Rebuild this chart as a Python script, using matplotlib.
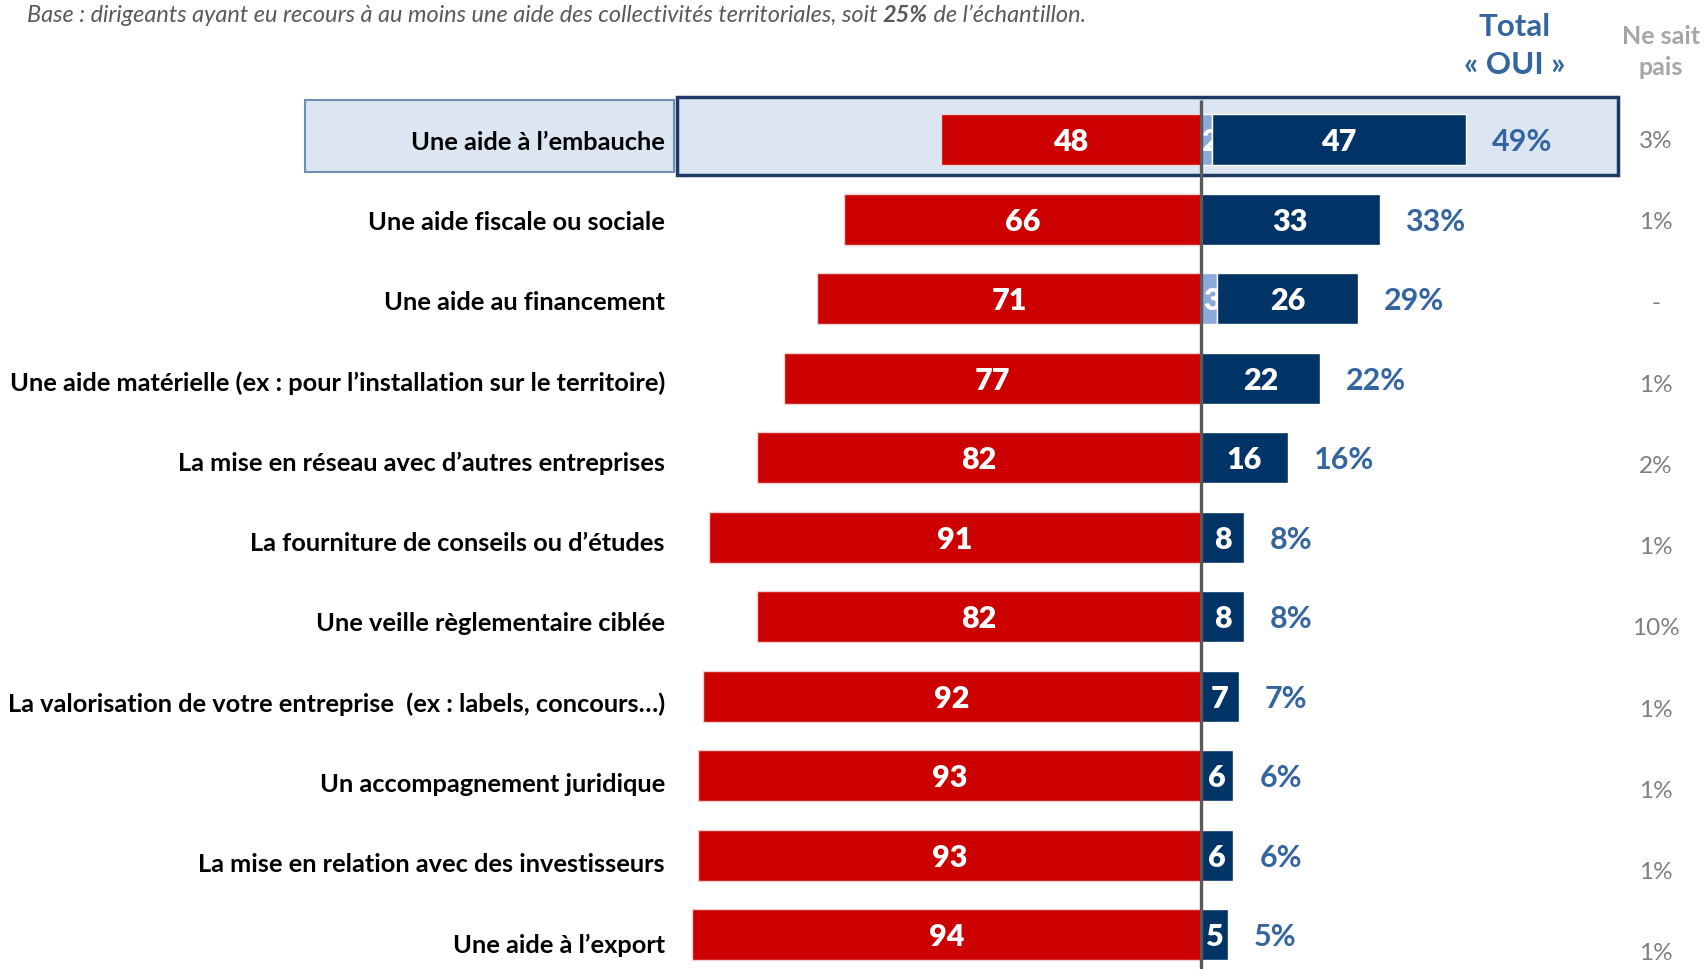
import matplotlib
matplotlib.use("Agg")
import matplotlib.pyplot as plt
from matplotlib.patches import Rectangle

# ---------------- data ----------------
categories = [
    "Une aide à l\u2019embauche",
    "Une aide fiscale ou sociale",
    "Une aide au financement",
    "Une aide matérielle (ex : pour l\u2019installation sur le territoire)",
    "La mise en réseau avec d\u2019autres entreprises",
    "La fourniture de conseils ou d\u2019études",
    "Une veille règlementaire ciblée",
    "La valorisation de votre entreprise  (ex : labels, concours\u2026)",
    "Un accompagnement juridique",
    "La mise en relation avec des investisseurs",
    "Une aide à l\u2019export",
]
non_vals = [48, 66, 71, 77, 82, 91, 82, 92, 93, 93, 94]
oui_light = [2, 0, 3, 0, 0, 0, 0, 0, 0, 0, 0]
oui_vals = [47, 33, 26, 22, 16, 8, 8, 7, 6, 6, 5]
total_oui = [49, 33, 29, 22, 16, 8, 8, 7, 6, 6, 5]
ne_sait_pas = ["3%", "1%", "-", "1%", "2%", "1%", "10%", "1%", "1%", "1%", "1%"]

base_text_1 = "Base : dirigeants ayant eu recours à au moins une aide des collectivités territoriales, soit "
base_text_bold = "25%"
base_text_2 = " de l\u2019échantillon."
header_total = "Total\n\u00ab OUI \u00bb"
header_nsp = "Ne sait\npais"

# ---------------- style ----------------
plt.rcParams['font.family'] = ['Lato', 'DejaVu Sans']
RED = "#CC0000"
NAVY = "#003366"
LIGHT = "#8EA9DB"
STEEL = "#3465A0"
GRAY = "#7F7F7F"
HEADGRAY = "#A6A6A6"

W, H = 1706, 969
fig = plt.figure(figsize=(W / 100, H / 100), dpi=100)
ax = fig.add_axes([0, 0, 1, 1])
ax.set_axis_off()

px_per_unit = 5.41
center_px = 1201
row0_px = 139.8
row_px = 79.5
ax.set_xlim(-center_px / px_per_unit, (W - center_px) / px_per_unit)
ax.set_ylim((H - row0_px) / row_px, -row0_px / row_px)

def dx(px):
    return (px - center_px) / px_per_unit

def dy(px):
    return (px - row0_px) / row_px

n = len(categories)
ys = list(range(n))
bh = 0.645

# highlight box for the first row
ax.add_patch(Rectangle((dx(305), dy(100)), dx(674) - dx(305), dy(172) - dy(100),
                       facecolor="#DCE6F2", edgecolor="#6F8FB5", lw=1.5, zorder=1))
ax.add_patch(Rectangle((dx(677), dy(97)), dx(1618) - dx(677), dy(175) - dy(97),
                       facecolor="#DCE6F2", edgecolor="#1F3864", lw=2.5, zorder=1))

# bars
ax.barh(ys, [-v for v in non_vals], height=bh, left=0, color=RED,
        edgecolor="#F2D0D0", lw=1, zorder=3)
ax.barh(ys, oui_light, height=bh, left=0, color=LIGHT, edgecolor="white", lw=1, zorder=3)
ax.barh(ys, oui_vals, height=bh, left=oui_light, color=NAVY, edgecolor="white", lw=1, zorder=4)

for i in range(n):
    y = ys[i]
    # red value
    ax.text(-non_vals[i] / 2, y + 0.03, str(non_vals[i]), ha="center", va="center",
            color="white", fontsize=22, fontweight="heavy", zorder=5)
    if oui_light[i]:
        ax.text(oui_light[i] / 2 + 0.6, y + 0.03, str(oui_light[i]), ha="center", va="center",
                color="white", fontsize=22, fontweight="heavy", zorder=3.5)
    ax.text(oui_light[i] + oui_vals[i] / 2, y + 0.03, str(oui_vals[i]), ha="center", va="center",
            color="white", fontsize=22, fontweight="heavy", zorder=5)
    # total oui
    ax.text(oui_light[i] + oui_vals[i] + 4.8, y + 0.03, f"{total_oui[i]}%", ha="left", va="center",
            color=STEEL, fontsize=22, fontweight="bold", zorder=5)
    # ne sait pas
    ax.text(dx(1656), y * 1.022 + 0.02, ne_sait_pas[i], ha="center", va="center",
            color=GRAY, fontsize=17.5, zorder=5)
    # category label
    ax.text(dx(665), y * 1.01 + 0.03, categories[i], ha="right", va="center",
            color="black", fontsize=18.3, fontweight="bold", zorder=5)

# center line
ax.plot([0, 0], [dy(100), dy(H + 5)], color="#595959", lw=2.4, zorder=6,
        solid_capstyle="butt")

# headers
fig.text(1515 / W, 1 - 46 / H, header_total, ha="center", va="center", color=STEEL,
         fontsize=22.5, fontweight="bold", linespacing=1.45)
fig.text(1661 / W, 1 - 52 / H, header_nsp, ha="center", va="center", color=HEADGRAY,
         fontsize=18, fontweight="bold", linespacing=1.4)

# base text (three pieces)
fig.canvas.draw()
renderer = fig.canvas.get_renderer()
x0 = 27 / W
yb = 1 - 16 / H
t1 = fig.text(x0, yb, base_text_1, ha="left", va="center", color="#595959",
              fontsize=16.9, fontstyle="italic")
w1 = t1.get_window_extent(renderer).width / W
t2 = fig.text(x0 + w1, yb, base_text_bold, ha="left", va="center", color="#595959",
              fontsize=16.9, fontstyle="italic", fontweight="bold")
w2 = t2.get_window_extent(renderer).width / W
fig.text(x0 + w1 + w2, yb, base_text_2, ha="left", va="center", color="#595959",
         fontsize=16.9, fontstyle="italic")

fig.savefig("out.png", dpi=100)
